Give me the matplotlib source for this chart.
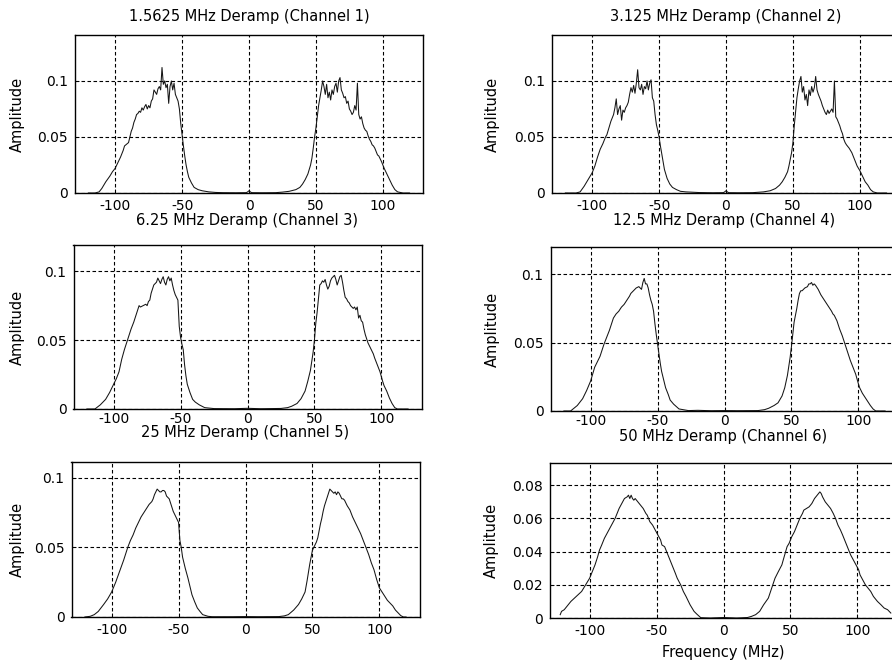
import matplotlib
matplotlib.use("Agg")
import matplotlib.pyplot as plt

plt.rcParams['font.family'] = ['DejaVu Sans']

# ---------------- data ----------------
titles = ["1.5625 MHz Deramp (Channel 1)", "3.125 MHz Deramp (Channel 2)",
          "6.25 MHz Deramp (Channel 3)", "12.5 MHz Deramp (Channel 4)",
          "25 MHz Deramp (Channel 5)", "50 MHz Deramp (Channel 6)"]
x_ticks = [-100, -50, 0, 50, 100]
y_ticks_std = [0, 0.05, 0.1]
y_ticks_ch6 = [0, 0.02, 0.04, 0.06, 0.08]
y_ticklabels_std = ["0", "0.05", "0.1"]
y_ticklabels_ch6 = ["0", "0.02", "0.04", "0.06", "0.08"]

ch1_freq = [-120, -115, -112, -110, -107, -104, -102, -100, -98, -96, -94, -93, -92, -91, -90,
            -89, -88, -87, -86, -85, -84, -83, -82, -81, -80, -79, -78, -77, -76, -75, -74,
            -73, -72, -71, -70, -69, -68, -67, -66, -65, -64, -63, -62, -61, -60, -59, -58,
            -57, -56, -55, -54, -53, -52, -51, -50, -49, -48, -47, -46, -45, -43, -41, -38,
            -35, -30, -25, -20, -10, -2, -1, 0, 1, 2, 10, 20, 25, 30, 35, 38, 40, 42, 44, 46,
            47, 48, 49, 50, 51, 52, 53, 54, 55, 56, 57, 58, 59, 60, 61, 62, 63, 64, 65, 66,
            67, 68, 69, 70, 71, 72, 73, 74, 75, 76, 77, 78, 79, 80, 81, 82, 83, 84, 85, 86,
            87, 88, 89, 90, 91, 92, 93, 94, 95, 96, 97, 99, 101, 103, 105, 107, 109, 111, 115, 120]
ch1_amp = [0, 0, 0.001, 0.004, 0.01, 0.015, 0.019, 0.022, 0.027, 0.032, 0.038, 0.042, 0.043, 0.044, 0.045,
           0.05, 0.055, 0.058, 0.063, 0.066, 0.07, 0.071, 0.073, 0.072, 0.076, 0.074, 0.077, 0.079, 0.075, 0.078, 0.076,
           0.082, 0.084, 0.092, 0.09, 0.088, 0.093, 0.095, 0.092, 0.112, 0.097, 0.1, 0.094, 0.097, 0.08, 0.095, 0.1,
           0.092, 0.098, 0.088, 0.085, 0.082, 0.075, 0.062, 0.052, 0.042, 0.033, 0.025, 0.019, 0.014, 0.009, 0.005, 0.003,
           0.002, 0.001, 0.0005, 0.0003, 0.0002, 0.0003, 0.001, 0.002, 0.001, 0.0003, 0.0002, 0.0003, 0.0008, 0.0015, 0.003, 0.005, 0.008, 0.012, 0.017, 0.025,
           0.031, 0.04, 0.05, 0.058, 0.068, 0.078, 0.085, 0.092, 0.1, 0.095, 0.088, 0.097, 0.085, 0.09, 0.083, 0.092, 0.088, 0.095, 0.098, 0.09,
           0.1, 0.103, 0.092, 0.089, 0.085, 0.086, 0.08, 0.082, 0.075, 0.073, 0.07, 0.072, 0.078, 0.074, 0.098, 0.07, 0.066, 0.068, 0.062, 0.058,
           0.056, 0.055, 0.051, 0.048, 0.046, 0.043, 0.042, 0.04, 0.037, 0.034, 0.033, 0.028, 0.022, 0.017, 0.012, 0.007, 0.003, 0.001, 0, 0]

ch2_freq = [-120, -112, -109, -106, -103, -100, -98, -96, -94, -92, -91, -90, -89, -88, -87, -86, -85, -84,
            -83, -82, -81, -80, -79, -78, -77, -76, -75, -74, -73, -72, -71, -70, -69, -68, -67, -66, -65,
            -64, -63, -62, -61, -60, -59, -58, -57, -56, -55, -54, -53, -52, -51, -50, -49, -48, -47, -46,
            -44, -42, -40, -37, -34, -30, -20, -10, -2, -1, 0, 1, 2, 10, 20, 28, 33, 37, 40, 42, 44, 46, 47,
            48, 49, 50, 51, 52, 53, 54, 55, 56, 57, 58, 59, 60, 61, 62, 63, 64, 65, 66, 67, 68, 69, 70, 71,
            72, 73, 74, 75, 76, 77, 78, 79, 80, 81, 82, 83, 84, 85, 86, 87, 88, 89, 90, 92, 94, 96, 98, 100,
            102, 104, 106, 108, 110, 113, 120]
ch2_amp = [0, 0, 0.001, 0.006, 0.012, 0.018, 0.024, 0.032, 0.039, 0.044, 0.047, 0.05, 0.052, 0.056, 0.06, 0.064, 0.067, 0.07,
           0.076, 0.084, 0.07, 0.075, 0.078, 0.065, 0.074, 0.072, 0.076, 0.078, 0.081, 0.088, 0.094, 0.09, 0.096, 0.089, 0.098, 0.11, 0.094,
           0.092, 0.097, 0.088, 0.095, 0.093, 0.1, 0.092, 0.098, 0.101, 0.085, 0.082, 0.07, 0.061, 0.056, 0.05, 0.042, 0.035, 0.028, 0.021,
           0.013, 0.008, 0.005, 0.003, 0.0015, 0.001, 0.0004, 0.0002, 0.0003, 0.001, 0.002, 0.001, 0.0003, 0.0002, 0.0003, 0.001, 0.002, 0.004, 0.007, 0.01, 0.014, 0.019, 0.024,
           0.03, 0.036, 0.045, 0.06, 0.072, 0.085, 0.093, 0.1, 0.104, 0.09, 0.095, 0.083, 0.088, 0.078, 0.092, 0.087, 0.095, 0.09, 0.094, 0.104, 0.092, 0.088, 0.085, 0.082,
           0.078, 0.075, 0.072, 0.07, 0.074, 0.071, 0.073, 0.075, 0.072, 0.1, 0.068, 0.066, 0.063, 0.06, 0.056, 0.053, 0.048, 0.045, 0.043, 0.04, 0.036, 0.03, 0.024, 0.02,
           0.015, 0.01, 0.007, 0.003, 0.001, 0, 0]

ch3_freq = [-120, -114, -110, -106, -103, -100, -98, -96, -94, -92, -90, -88, -87, -85, -84, -82, -81, -80,
            -78, -76, -75, -74, -73, -72, -70, -68, -67, -66, -65, -64, -63, -62, -61, -60, -59, -58, -57,
            -56, -55, -54, -53, -52, -51, -50, -49, -48, -47, -46, -45, -43, -41, -39, -36, -32, -25, -10,
            0, 10, 25, 30, 33, 37, 40, 43, 45, 47, 49, 50, 51, 52, 53, 54, 55, 56, 57, 58, 59, 60, 61, 62,
            63, 64, 65, 66, 67, 68, 69, 70, 71, 72, 73, 74, 75, 76, 77, 78, 79, 80, 81, 82, 83, 84, 85, 86,
            87, 88, 89, 90, 91, 92, 93, 94, 95, 97, 99, 101, 102, 104, 106, 108, 110, 112, 120]
ch3_amp = [0, 0, 0.003, 0.007, 0.012, 0.018, 0.022, 0.027, 0.036, 0.043, 0.049, 0.055, 0.058, 0.063, 0.066, 0.072, 0.075, 0.074,
           0.075, 0.076, 0.075, 0.078, 0.079, 0.084, 0.09, 0.092, 0.095, 0.093, 0.091, 0.094, 0.096, 0.092, 0.09, 0.094, 0.096, 0.093, 0.095,
           0.09, 0.086, 0.083, 0.081, 0.079, 0.06, 0.052, 0.047, 0.043, 0.032, 0.024, 0.018, 0.012, 0.007, 0.005, 0.003, 0.001, 0.0003, 0.0002,
           0.0005, 0.0002, 0.0004, 0.001, 0.002, 0.004, 0.0075, 0.013, 0.02, 0.028, 0.041, 0.05, 0.062, 0.07, 0.08, 0.09, 0.091, 0.093, 0.092, 0.094, 0.09, 0.087, 0.089, 0.093,
           0.095, 0.096, 0.097, 0.094, 0.09, 0.093, 0.096, 0.097, 0.092, 0.086, 0.081, 0.08, 0.078, 0.077, 0.075, 0.074, 0.073, 0.074, 0.072, 0.074, 0.066, 0.068, 0.064, 0.063,
           0.058, 0.054, 0.051, 0.048, 0.046, 0.044, 0.042, 0.04, 0.037, 0.032, 0.027, 0.02, 0.017, 0.013, 0.008, 0.004, 0.001, 0, 0]

ch4_freq = [-120, -115, -110, -106, -103, -100, -97, -95, -93, -90, -88, -86, -84, -83, -81, -79, -77, -75,
            -73, -71, -70, -68, -66, -64, -62, -61, -60, -59, -58, -57, -56, -55, -54, -53, -52, -51, -50,
            -49, -48, -47, -45, -44, -42, -40.6, -38, -34, -27, -20, -10, 0, 10, 25, 30, 33, 37, 40, 43, 45,
            47, 49, 50, 51, 52, 53, 54, 55, 56, 57, 58, 60, 62, 63, 64, 65, 66, 67, 68, 70, 71, 72, 74, 76,
            78, 80, 81, 82, 84, 86, 88, 90, 92, 94, 96, 98, 100, 101, 103, 105, 107, 109, 111, 113, 120]
ch4_amp = [0, 0, 0.004, 0.009, 0.015, 0.022, 0.032, 0.036, 0.04, 0.049, 0.054, 0.059, 0.065, 0.068, 0.071, 0.073, 0.076, 0.078,
           0.081, 0.084, 0.086, 0.088, 0.09, 0.091, 0.089, 0.094, 0.097, 0.093, 0.093, 0.09, 0.085, 0.081, 0.078, 0.073, 0.064, 0.056, 0.049,
           0.042, 0.035, 0.029, 0.021, 0.017, 0.012, 0.008, 0.005, 0.0015, 0.0003, 0.0005, 0.0002, 0.0003, 0.0002, 0.0003, 0.001, 0.002, 0.004, 0.006, 0.011, 0.017,
           0.026, 0.039, 0.047, 0.056, 0.065, 0.07, 0.075, 0.081, 0.086, 0.088, 0.088, 0.09, 0.091, 0.093, 0.093, 0.094, 0.092, 0.093, 0.092, 0.089, 0.087, 0.085, 0.082, 0.079,
           0.076, 0.073, 0.071, 0.07, 0.066, 0.06, 0.055, 0.049, 0.043, 0.037, 0.032, 0.027, 0.02, 0.017, 0.013, 0.01, 0.007, 0.004, 0.0015, 0, 0]

ch5_freq = [-120, -116, -113, -110, -106, -103, -100, -97, -94, -91, -88, -86, -84, -82, -80, -78, -76, -74,
            -72, -70, -69, -68, -67, -66, -65, -64, -63, -62, -61, -60, -59, -58, -57, -56, -55, -54, -53,
            -52, -51, -50, -49, -48, -47, -45, -43, -41, -40, -38, -36, -34, -32, -28, -25, -10, 0, 10, 25,
            29, 32, 36, 39.6, 42, 44.5, 46, 48, 50, 51, 52, 53, 54, 55, 56, 57, 58, 59, 60, 61, 62, 63, 64,
            65, 66, 67, 68, 69, 70, 71, 72, 73, 74, 76, 78, 80, 82, 84, 86, 88, 90, 92, 94, 96, 98, 100, 102,
            104, 106, 108, 110, 112, 114, 116, 118, 120]
ch5_amp = [0, 0.0005, 0.0017, 0.004, 0.009, 0.013, 0.018, 0.025, 0.033, 0.041, 0.05, 0.055, 0.059, 0.064, 0.068, 0.072, 0.075, 0.078,
           0.081, 0.083, 0.085, 0.088, 0.09, 0.092, 0.091, 0.09, 0.09, 0.091, 0.091, 0.09, 0.087, 0.086, 0.085, 0.082, 0.079, 0.076, 0.074,
           0.072, 0.07, 0.068, 0.055, 0.05, 0.043, 0.035, 0.028, 0.02, 0.016, 0.011, 0.0065, 0.004, 0.0017, 0.0005, 0.0002, 0.0002, 0.0003, 0.0002, 0.0003,
           0.0008, 0.0017, 0.005, 0.009, 0.013, 0.018, 0.026, 0.038, 0.048, 0.05, 0.052, 0.054, 0.057, 0.062, 0.067, 0.071, 0.076, 0.08, 0.083, 0.086, 0.089, 0.092, 0.091,
           0.09, 0.089, 0.09, 0.088, 0.09, 0.089, 0.087, 0.085, 0.085, 0.084, 0.08, 0.077, 0.072, 0.068, 0.064, 0.06, 0.055, 0.05, 0.045, 0.039, 0.034, 0.027, 0.021, 0.018,
           0.015, 0.012, 0.01, 0.008, 0.005, 0.003, 0.001, 0, 0]

ch6_freq = [-122, -121, -119, -117, -114, -110, -106, -103, -100, -98, -96, -94, -92.6, -91, -89, -87, -85,
            -83, -81, -79, -78, -76, -74, -72, -71, -70, -69, -68, -67, -66, -64, -62, -60, -58, -57, -55,
            -53, -51, -49, -47, -46, -44, -42, -40, -38, -36, -34.6, -32, -30, -28, -25, -22, -20, -17, -10,
            0, 10, 18, 21, 24, 27, 30, 33.5, 36, 38.5, 41, 43.6, 45, 47.5, 49, 51, 53, 55, 57, 59, 60, 62,
            64, 66, 68, 70, 72, 73, 74, 76, 78, 80, 82, 83.7, 85.5, 87.4, 89, 91, 93, 95, 97, 99, 101, 102,
            104, 106, 108, 110, 112, 113, 115, 117.6, 120, 122.6, 125]
ch6_amp = [0.002, 0.004, 0.005, 0.007, 0.01, 0.013, 0.016, 0.02, 0.024, 0.028, 0.032, 0.037, 0.041, 0.044, 0.048, 0.051, 0.054,
           0.057, 0.06, 0.064, 0.066, 0.069, 0.072, 0.073, 0.074, 0.072, 0.074, 0.072, 0.071, 0.072, 0.07, 0.068, 0.066, 0.063, 0.062, 0.058,
           0.056, 0.053, 0.05, 0.047, 0.044, 0.043, 0.039, 0.035, 0.031, 0.027, 0.024, 0.02, 0.016, 0.013, 0.008, 0.004, 0.0024, 0.0002, 0,
           0.0003, 0, 0.0003, 0.001, 0.002, 0.004, 0.008, 0.012, 0.018, 0.024, 0.028, 0.032, 0.036, 0.043, 0.045, 0.049, 0.052, 0.056, 0.06, 0.063, 0.065, 0.066,
           0.067, 0.069, 0.072, 0.074, 0.076, 0.075, 0.073, 0.07, 0.068, 0.066, 0.063, 0.06, 0.056, 0.053, 0.05, 0.046, 0.042, 0.038, 0.035, 0.032, 0.029, 0.026,
           0.023, 0.02, 0.018, 0.016, 0.013, 0.012, 0.01, 0.008, 0.006, 0.005, 0.003]

freqs = [ch1_freq, ch2_freq, ch3_freq, ch4_freq, ch5_freq, ch6_freq]
amps = [ch1_amp, ch2_amp, ch3_amp, ch4_amp, ch5_amp, ch6_amp]

# ---------------- layout (pixel boxes: left, top, right, bottom) ----------------
W, H = 892, 667
boxes = [(75, 35, 423, 193), (552, 35, 900, 193),
         (73.5, 245, 421.5, 409), (550.5, 247, 898.5, 411),
         (71.5, 462, 419.5, 617), (549.5, 463, 897.5, 618)]
ylims = [0.141, 0.141, 0.119, 0.12, 0.1115, 0.0934]
title_y = [16, 17, 221, 221, 432, 437]
ylabel_right_x = [25, 500, 25, 500, 25, 499]
xtick_pad = [4, 4, 2, 2.5, 4, 4]

fig = plt.figure(figsize=(W / 100, H / 100), dpi=100)

for i in range(6):
    l, t, r, b = boxes[i]
    ax = fig.add_axes([l / W, 1 - b / H, (r - l) / W, (b - t) / H])
    ax.plot(freqs[i], amps[i], color='#151515', lw=0.75)
    ax.set_xlim(-130, 130)
    ax.set_ylim(0, ylims[i])
    ax.set_xticks(x_ticks)
    ax.set_xticklabels([str(v) for v in x_ticks])
    if i == 5:
        ax.set_yticks(y_ticks_ch6)
        ax.set_yticklabels(y_ticklabels_ch6)
    else:
        ax.set_yticks(y_ticks_std)
        ax.set_yticklabels(y_ticklabels_std)
    ax.grid(True, color='black', linestyle=(0, (3.2, 2.2)), linewidth=0.8)
    ax.tick_params(direction='in', length=3, width=0.6, labelsize=10)
    ax.tick_params(axis='x', pad=xtick_pad[i])
    ax.tick_params(axis='y', pad=5)
    for s in ax.spines.values():
        s.set_linewidth(1.0)
    ax.set_ylabel("Amplitude", fontsize=10.5)
    ax.yaxis.set_label_coords((ylabel_right_x[i] - l) / (r - l), 0.5)
    ax.text(0.5, 1 + (t - title_y[i]) / (b - t), titles[i], transform=ax.transAxes,
            ha='center', va='center', fontsize=10.5)
    if i == 5:
        ax.set_xlabel("Frequency (MHz)", fontsize=10.5, labelpad=5)

fig.savefig("out.png", dpi=100)
